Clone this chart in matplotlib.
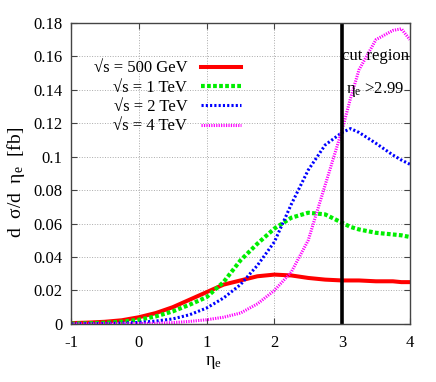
import matplotlib
matplotlib.use('Agg')
import matplotlib.pyplot as plt

plt.rcParams['font.family'] = ['Liberation Serif', 'DejaVu Serif']
plt.rcParams['mathtext.fontset'] = 'custom'
plt.rcParams['mathtext.rm'] = 'Liberation Serif'
plt.rcParams['mathtext.it'] = 'Liberation Serif'

eta = [-1, -0.75, -0.5, -0.25, 0, 0.25, 0.5, 0.75, 1, 1.25, 1.5, 1.75,
       2, 2.25, 2.5, 2.75, 3, 3.125, 3.25, 3.5, 3.75, 3.875, 4]

s500 = [0.0005, 0.0008, 0.0013, 0.0022, 0.004, 0.0065, 0.010, 0.0145, 0.019,
        0.0235, 0.026, 0.0285, 0.0295, 0.029, 0.0275, 0.0265, 0.026, 0.026,
        0.026, 0.0255, 0.0255, 0.025, 0.025]
s1 = [0.0002, 0.0004, 0.0007, 0.0013, 0.0025, 0.0045, 0.0075, 0.0115, 0.016,
      0.025, 0.038, 0.048, 0.057, 0.0635, 0.0665, 0.0655, 0.0605, 0.058,
      0.0565, 0.0545, 0.0535, 0.053, 0.052]
s2 = [0.0001, 0.0002, 0.0003, 0.0005, 0.0009, 0.0017, 0.003, 0.0055, 0.0095,
      0.0155, 0.0235, 0.035, 0.049, 0.0715, 0.092, 0.107, 0.1145, 0.1168,
      0.1145, 0.108, 0.101, 0.098, 0.0955]
s4 = [0.0, 0.0, 0.0001, 0.0001, 0.0002, 0.0004, 0.0008, 0.0015, 0.0025,
      0.004, 0.0065, 0.012, 0.020, 0.031, 0.050, 0.083, 0.116, 0.135,
      0.152, 0.170, 0.1755, 0.1765, 0.170]

labels = ['\u221as = 500 GeV', '\u221as = 1 TeV', '\u221as = 2 TeV', '\u221as = 4 TeV']

cut = 3.0

fig = plt.figure(figsize=(4.36, 3.82), dpi=100)
ax = fig.add_axes([0.163, 0.152, 0.777, 0.788])

ax.plot(eta, s500, color='#ff0000', lw=2.9, label=labels[0])
ax.plot(eta, s1, color='#00ee00', lw=3.0, linestyle=(0, (0.9, 0.55)), label=labels[1])
ax.plot(eta, s2, color='#0000ff', lw=2.2, linestyle=(0, (0.7, 0.7)), label=labels[2])
ax.plot(eta, s4, color='#ff00ff', lw=2.2, linestyle=(0, (0.4, 0.4)), label=labels[3])

ax.axvline(cut, color='black', lw=2.6)
ax.text(3.5, 0.160, 'cut region', ha='center', va='center', fontsize=12)
ax.text(3.48, 0.140, r'$\eta_e$ >2.99', ha='center', va='center', fontsize=12)

ax.set_xlim(-1, 4)
ax.set_ylim(0, 0.18)
ax.set_xticks([-1, 0, 1, 2, 3, 4])
ax.set_xticklabels(['-1', '0', '1', '2', '3', '4'])
ax.set_yticks([0, 0.02, 0.04, 0.06, 0.08, 0.1, 0.12, 0.14, 0.16, 0.18])
ax.set_yticklabels(['0', '0.02', '0.04', '0.06', '0.08', '0.1', '0.12',
                    '0.14', '0.16', '0.18'])
ax.tick_params(direction='in', top=True, right=True, labelsize=12,
               length=4, color='#444444')
ax.tick_params(axis='y', pad=6)
ax.tick_params(axis='x', pad=8)
ax.grid(True, color='#aaaaaa', linestyle=':', lw=0.7)
for sp in ax.spines.values():
    sp.set_color('#444444')
    sp.set_linewidth(1.0)

ax.set_ylabel(r'd  $\sigma$/d  $\eta_e$  [fb]', fontsize=14)
ax.yaxis.set_label_coords(-0.13, 0.47)
ax.set_xlabel(r'$\eta_e$', fontsize=13)
ax.xaxis.set_label_coords(0.42, -0.10)

ax.legend(loc='upper right', bbox_to_anchor=(0.545, 0.925), frameon=False,
          markerfirst=False, fontsize=12, handlelength=2.4,
          labelspacing=0.2, handletextpad=0.8)

fig.savefig('out.png', dpi=100)
